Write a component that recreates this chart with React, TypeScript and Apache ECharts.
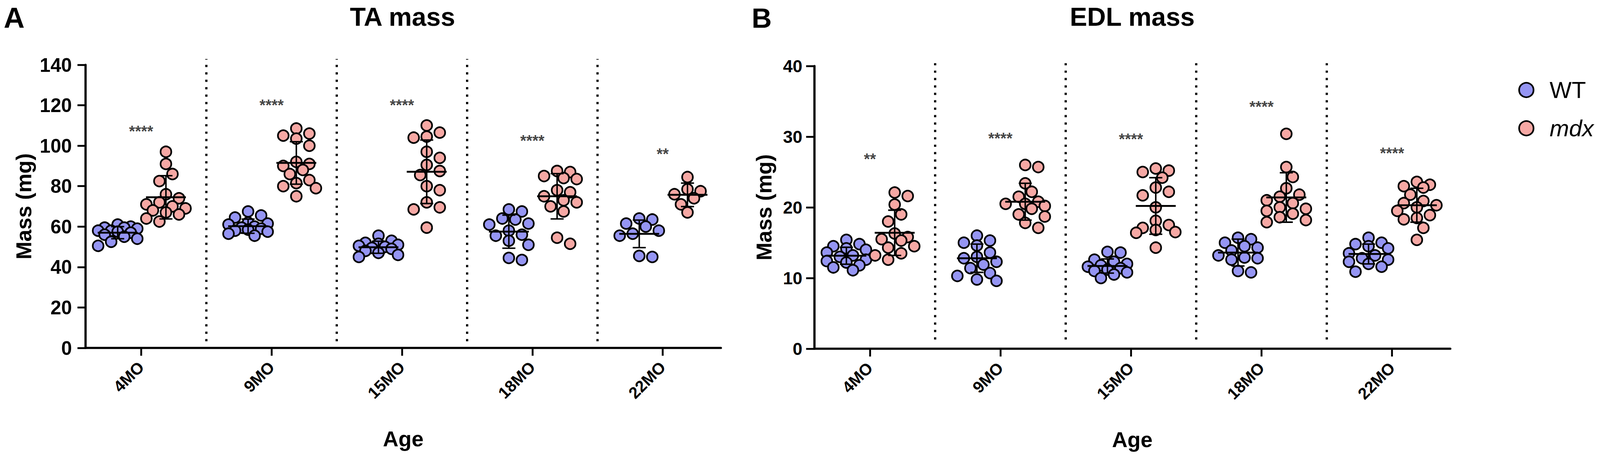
import React, { useEffect, useRef } from "react";
import * as echarts from "echarts";

// ---------------- data ----------------
const categories = ["4MO", "9MO", "15MO", "18MO", "22MO"];

const taWT = [
  [61, 60, 59.5, 59.5, 59, 58, 58, 57.5, 57, 56, 55, 54, 52.5, 50.5],
  [67.5, 65.5, 64.5, 62, 61.5, 61, 60, 59.5, 59, 58.5, 58, 57.5, 56.5, 55.5],
  [55.5, 53, 52, 51.5, 51, 50.5, 50, 49.5, 49, 48, 47, 46, 45],
  [68.5, 67.5, 64, 63.5, 61.5, 61, 58, 56, 55.5, 53, 51, 44.5, 43.5],
  [64, 63.5, 61.5, 60, 58, 56.5, 55.5, 45, 45.5],
];
const taMdx = [
  [97, 91, 86, 82.5, 76, 74, 72, 71, 70, 69, 68, 67, 66, 64, 62.5],
  [108.5, 106, 105, 103.5, 100, 92, 91, 90, 88, 86, 83, 81.5, 80, 79, 75],
  [110, 106.5, 104.5, 104, 97, 94, 90.5, 87.5, 85.5, 80, 78, 72, 69.5, 68.5, 59.5],
  [87.5, 87, 85, 84, 83.5, 78, 77, 75, 73, 72, 70, 67.5, 54.5, 51.5],
  [84.5, 78.5, 77.5, 76, 74, 71, 67],
];
const edlWT = [
  [15.4, 14.8, 14.5, 14.2, 14, 13.6, 13.2, 13, 12.6, 12.4, 12.2, 11.8, 11.5, 11.1],
  [16, 15.3, 15, 14.6, 13.6, 13, 12.8, 12.3, 11.9, 11.4, 10.7, 10.3, 9.8, 9.6],
  [13.7, 13.6, 12.6, 12.3, 12.0, 11.8, 11.6, 11.4, 11.2, 11.0, 10.8, 10.5, 10.0],
  [15.7, 15.5, 15.0, 14.5, 14.3, 13.9, 13.2, 12.9, 12.8, 12.6, 11.0, 10.8],
  [15.7, 15.0, 14.8, 14.5, 14.2, 13.5, 13.2, 12.8, 12.6, 12.3, 12.0, 11.6, 10.9],
];
const edlMdx = [
  [22.1, 21.6, 20.4, 19, 18, 15.8, 16.3, 15.5, 15.3, 14.5, 14.3, 13.5, 13.2, 12.6],
  [26, 25.7, 23.4, 22.2, 21.5, 20.5, 20.8, 20.5, 20.2, 19.8, 19, 18.7, 17.8, 17.1],
  [25.5, 25.2, 25.0, 24.2, 22.8, 22.2, 21.7, 20.0, 18.1, 17.5, 17.1, 16.8, 16.5, 16.4, 14.3],
  [30.4, 25.7, 24.3, 22.7, 21.8, 21.5, 21.0, 20.6, 20.0, 19.8, 19.5, 19.1, 18.6, 18.2, 17.9],
  [23.6, 23.2, 23.0, 22.8, 21.8, 20.9, 20.6, 20.3, 20.0, 19.5, 18.9, 18.5, 18.3, 17.1, 15.4],
];

const taWTMean = [57, 60.2, 49.8, 57.5, 56.4];
const taWTSd = [3, 3.5, 3, 8.2, 6.8];
const taMdxMean = [74.5, 91.5, 87.1, 75, 75.7];
const taMdxSd = [10.7, 10.5, 15.7, 11.2, 5.8];
const edlWTMean = [13.15, 12.8, 11.7, 13.6, 13.4];
const edlWTSd = [1.2, 2.0, 1.0, 1.9, 1.4];
const edlMdxMean = [16.4, 20.8, 20.2, 21.4, 20.3];
const edlMdxSd = [3.2, 2.6, 4.0, 3.5, 2.4];

const taStars = ["****", "****", "****", "****", "**"];
const taStarY = [109, 122, 122, 104.3, 97.9];
const edlStars = ["**", "****", "****", "****", "****"];
const edlStarY = [27.4, 30.3, 30.2, 34.8, 28.2];

const dividerX = [0.5, 1.5, 2.5, 3.5];
const taDividerRange = [3.3, 142.9];
const edlDividerRange = [1.3, 41];

const taTicks = { max: 140, interval: 20 };
const edlTicks = { max: 40, interval: 10 };

// ---------------- layout / style (reference frame 4317 x 1178) ----------------
const REF_W = 4317;
const REF_H = 1178;
const FONT = "Liberation Sans";
const WT_COLOR = "#9595f3";
const MDX_COLOR = "#f6a8a4";
const X_MIN = -0.426;
const X_MAX = 4.446;
const WT_OFF = -0.18;
const MDX_OFF = 0.19;

function swarm(values: number[], center: number, pxX: number, pxY: number, diam: number) {
  const order = values.map((_, i) => i).sort((a, b) => values[b] - values[a]);
  const placed: { x: number; y: number }[] = [];
  const out: number[][] = new Array(values.length);
  const step = diam * 0.55;
  const cands = [0, 1, -1, 2, -2, 3, -3];
  for (const i of order) {
    const y = values[i] * pxY;
    let best = 0;
    let bestD = -1;
    for (const k of cands) {
      const x = k * step;
      let md = Infinity;
      for (const p of placed) md = Math.min(md, Math.hypot(p.x - x, p.y - y));
      if (md >= diam * 0.86) {
        best = x;
        bestD = Infinity;
        break;
      }
      if (md > bestD) {
        bestD = md;
        best = x;
      }
    }
    placed.push({ x: best, y });
    out[i] = [center + best / pxX, values[i]];
  }
  return out;
}

function groupPoints(groups: number[][], off: number, grid: any, ymax: number, diam: number) {
  const pxX = grid.width / (X_MAX - X_MIN);
  const pxY = grid.height / ymax;
  const pts: number[][] = [];
  groups.forEach((g, i) => {
    swarm(g, i + off, pxX, pxY, diam).forEach((p) => pts.push(p));
  });
  return pts;
}

function meanSdData(means: number[], sds: number[], off: number) {
  return means.map((m, i) => [i + off, m, sds[i]]);
}

function buildOption(sx: number, sy: number) {
  const f = Math.min(sx, sy);
  const gridA = { left: 231 * sx, top: 166 * sy, width: 1714 * sx, height: 725 * sy };
  const gridB = { left: 2197 * sx, top: 169 * sy, width: 1716 * sx, height: 724 * sy };
  const SYM = 29 * f;
  const DIAM = 32 * f;

  const meanRender = (params: any, api: any) => {
    const x = api.value(0);
    const m = api.value(1);
    const s = api.value(2);
    const c = api.coord([x, m]);
    const t = api.coord([x, m + s]);
    const b = api.coord([x, m - s]);
    const hw = api.size([0.153, 0])[0];
    const cw = api.size([0.05, 0])[0];
    const st = { stroke: "#000", lineWidth: 4 * f };
    return {
      type: "group",
      children: [
        { type: "line", shape: { x1: c[0], y1: t[1], x2: c[0], y2: b[1] }, style: st },
        { type: "line", shape: { x1: c[0] - cw, y1: t[1], x2: c[0] + cw, y2: t[1] }, style: st },
        { type: "line", shape: { x1: c[0] - cw, y1: b[1], x2: c[0] + cw, y2: b[1] }, style: st },
        { type: "line", shape: { x1: c[0] - hw, y1: c[1], x2: c[0] + hw, y2: c[1] }, style: { stroke: "#000", lineWidth: 5 * f } },
      ],
    };
  };

  const dividerRender = (params: any, api: any) => {
    const x = api.value(0);
    const p0 = api.coord([x, api.value(1)]);
    const p1 = api.coord([x, api.value(2)]);
    return {
      type: "line",
      shape: { x1: p0[0], y1: p0[1], x2: p1[0], y2: p1[1] },
      style: { stroke: "#000", lineWidth: 6 * f, lineDash: [6 * f, 14 * f] },
    };
  };

  const xAxisCfg = (gridIndex: number) => ({
    type: "value",
    gridIndex,
    min: X_MIN,
    max: X_MAX,
    name: "Age",
    nameLocation: "middle",
    nameGap: 205 * sy,
    nameTextStyle: { fontFamily: FONT, fontSize: 58 * f, fontWeight: "bold", color: "#000" },
    axisLine: { show: true, onZero: false, lineStyle: { color: "#000", width: 6 * f } },
    axisTick: { show: true, length: 20 * sy, lineStyle: { color: "#000", width: 5 * f }, customValues: [0, 1, 2, 3, 4] },
    axisLabel: {
      show: true,
      rotate: 45,
      margin: 42 * sy,
      customValues: [0, 1, 2, 3, 4],
      formatter: (v: number) => categories[Math.round(v)] ?? "",
      fontFamily: FONT,
      fontSize: 44 * f,
      fontWeight: "bold",
      color: "#000",
    },
    splitLine: { show: false },
  });

  const yAxisCfg = (gridIndex: number, t: { max: number; interval: number }, fs: number, margin: number, gap: number) => ({
    type: "value",
    gridIndex,
    min: 0,
    max: t.max,
    interval: t.interval,
    name: "Mass (mg)",
    nameLocation: "middle",
    nameGap: gap * sx,
    nameTextStyle: { fontFamily: FONT, fontSize: 58 * f, fontWeight: "bold", color: "#000" },
    axisLine: { show: true, onZero: false, lineStyle: { color: "#000", width: 6 * f } },
    axisTick: { show: true, length: 22 * sx, lineStyle: { color: "#000", width: 5 * f } },
    axisLabel: { margin: margin * sx, fontFamily: FONT, fontSize: fs * f, fontWeight: "bold", color: "#000" },
    splitLine: { show: false },
  });

  const starSeries = (idx: number, stars: string[], ys: number[]) => ({
    type: "scatter",
    name: "sig" + idx,
    xAxisIndex: idx,
    yAxisIndex: idx,
    symbolSize: 0,
    silent: true,
    z: 5,
    data: stars.map((s, i) => ({ name: s, value: [i, ys[i]] })),
    label: {
      show: true,
      position: "inside",
      formatter: "{b}",
      offset: [0, 10 * f],
      fontFamily: FONT,
      fontSize: 42 * f,
      fontWeight: "bold",
      color: "#111",
    },
  });

  const scatterSeries = (name: string, idx: number, data: number[][], color: string) => ({
    type: "scatter",
    name,
    xAxisIndex: idx,
    yAxisIndex: idx,
    symbol: "circle",
    symbolSize: SYM,
    z: 2,
    itemStyle: { color, borderColor: "#000", borderWidth: 4.5 * f, opacity: 1 },
    data,
  });

  const legendCfg = (name: string, centerY: number) => ({
    data: [name],
    left: (4116 - 19.5) * sx,
    top: centerY * sy - 19.5 * f,
    padding: 0,
    align: "left",
    orient: "horizontal",
    icon: "circle",
    itemWidth: 39 * f,
    itemHeight: 39 * f,
    selectedMode: false,
    itemStyle: { borderColor: "#000", borderWidth: 4.5 * f },
    formatter: (n: string) => (n === "mdx" ? "{i|mdx}" : n),
    textStyle: {
      fontFamily: FONT,
      fontSize: 63 * f,
      color: "#000",
      lineHeight: 39 * f,
      padding: [0, 0, 0, 38 * f],
      rich: { i: { fontFamily: FONT, fontSize: 63 * f, fontStyle: "italic", color: "#000", lineHeight: 39 * f } },
    },
  });

  const textEl = (text: string, x: number, y: number, size: number, align: string) => ({
    type: "text",
    x: x * sx,
    y: y * sy,
    style: {
      text,
      fontFamily: FONT,
      fontSize: size * f,
      fontWeight: "bold",
      fill: "#000",
      align,
      verticalAlign: "middle",
    },
  });

  return {
    animation: false,
    backgroundColor: "#fff",
    grid: [
      { ...gridA, containLabel: false },
      { ...gridB, containLabel: false },
    ],
    xAxis: [xAxisCfg(0), xAxisCfg(1)],
    yAxis: [yAxisCfg(0, taTicks, 52, 37, 138), yAxisCfg(1, edlTicks, 47, 32, 106)],
    legend: [legendCfg("WT", 219), legendCfg("mdx", 317)],
    graphic: [
      textEl("A", 10, 45, 78, "left"),
      textEl("B", 2028, 46, 75, "left"),
      textEl("TA mass", 231 + 1714 / 2 - 2, 43, 70, "center"),
      textEl("EDL mass", 2197 + 1716 / 2, 43, 70, "center"),
    ],
    series: [
      {
        type: "custom",
        name: "dividerA",
        xAxisIndex: 0,
        yAxisIndex: 0,
        silent: true,
        z: 1,
        renderItem: dividerRender,
        data: dividerX.map((x) => [x, taDividerRange[0], taDividerRange[1]]),
        encode: { x: 0, y: [1, 2] },
      },
      {
        type: "custom",
        name: "dividerB",
        xAxisIndex: 1,
        yAxisIndex: 1,
        silent: true,
        z: 1,
        renderItem: dividerRender,
        data: dividerX.map((x) => [x, edlDividerRange[0], edlDividerRange[1]]),
        encode: { x: 0, y: [1, 2] },
      },
      scatterSeries("WT", 0, groupPoints(taWT, WT_OFF, gridA, taTicks.max, DIAM), WT_COLOR),
      scatterSeries("mdx", 0, groupPoints(taMdx, MDX_OFF, gridA, taTicks.max, DIAM), MDX_COLOR),
      scatterSeries("WT", 1, groupPoints(edlWT, WT_OFF, gridB, edlTicks.max, DIAM), WT_COLOR),
      scatterSeries("mdx", 1, groupPoints(edlMdx, MDX_OFF, gridB, edlTicks.max, DIAM), MDX_COLOR),
      {
        type: "custom",
        name: "meanA",
        xAxisIndex: 0,
        yAxisIndex: 0,
        silent: true,
        z: 4,
        renderItem: meanRender,
        data: [...meanSdData(taWTMean, taWTSd, WT_OFF), ...meanSdData(taMdxMean, taMdxSd, MDX_OFF)],
        encode: { x: 0, y: 1 },
      },
      {
        type: "custom",
        name: "meanB",
        xAxisIndex: 1,
        yAxisIndex: 1,
        silent: true,
        z: 4,
        renderItem: meanRender,
        data: [...meanSdData(edlWTMean, edlWTSd, WT_OFF), ...meanSdData(edlMdxMean, edlMdxSd, MDX_OFF)],
        encode: { x: 0, y: 1 },
      },
      starSeries(0, taStars, taStarY),
      starSeries(1, edlStars, edlStarY),
    ],
  };
}

export default function App() {
  const ref = useRef<HTMLDivElement>(null);
  useEffect(() => {
    const el = ref.current;
    if (!el) return;
    const vw = document.documentElement.clientWidth || window.innerWidth || REF_W;
    const vh = document.documentElement.clientHeight || window.innerHeight || REF_H;
    el.style.width = vw + "px";
    el.style.height = vh + "px";
    const chart = echarts.init(el, undefined, { renderer: "svg", width: vw, height: vh });
    chart.setOption(buildOption(vw / REF_W, vh / REF_H) as any);
    return () => chart.dispose();
  }, []);
  return (
    <div
      ref={ref}
      style={{ position: "absolute", left: 0, top: 0, width: "100vw", height: "100vh", background: "#fff", overflow: "hidden" }}
    />
  );
}
